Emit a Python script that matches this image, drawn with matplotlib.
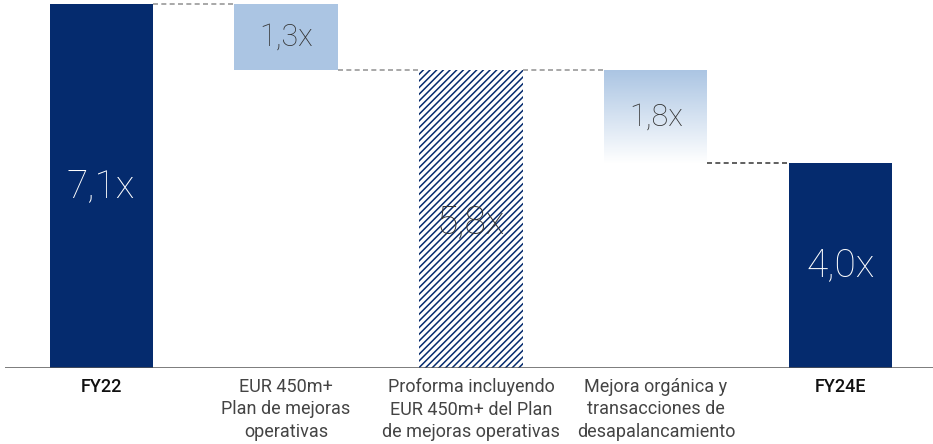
import numpy as np
import matplotlib
matplotlib.use("Agg")
import matplotlib.pyplot as plt
from matplotlib.colors import LinearSegmentedColormap

categories = ["FY22", "EUR 450m+\nPlan de mejoras\noperativas",
              "Proforma incluyendo\nEUR 450m+ del Plan\nde mejoras operativas",
              "Mejora orgánica y\ntransacciones de\ndesapalancamiento", "FY24E"]
bar_bottoms = [0.0, 5.8, 0.0, 4.0, 0.0]
bar_tops = [7.1, 7.1, 5.8, 5.8, 4.0]
value_labels = ["7,1x", "1,3x", "5,8x", "1,8x", "4,0x"]
bold_cats = [True, False, False, False, True]

NAVY = "#052b6e"
LIGHT = "#abc5e3"
plt.rcParams["font.family"] = ["Roboto", "DejaVu Sans"]
plt.rcParams["hatch.linewidth"] = 1.1

fig = plt.figure(figsize=(9.33, 4.44), dpi=100)
ax = fig.add_axes([5/933, 1-368/444, 928/933, 368/444])
x = np.arange(len(categories))
w = 103/185
ax.set_xlim(-(101-5)/185, (933-101)/185)
ax.set_ylim(0, 368/51.3)

heights = [t - b for t, b in zip(bar_tops, bar_bottoms)]
for i in (0, 4):
    ax.bar(x[i], heights[i], bottom=bar_bottoms[i], width=w, color=NAVY, linewidth=0)
ax.bar(x[1], heights[1], bottom=bar_bottoms[1], width=w, color=LIGHT, linewidth=0)
ax.bar(x[2], heights[2], bottom=bar_bottoms[2], width=w, facecolor="white",
       edgecolor=NAVY, hatch="/////", linewidth=0)
cmap = LinearSegmentedColormap.from_list("g", [LIGHT, "#ffffff"])
grad = np.linspace(0, 1, 256).reshape(-1, 1)
ax.imshow(grad, cmap=cmap, aspect="auto", origin="upper",
          extent=(x[3]-w/2, x[3]+w/2, bar_bottoms[3], bar_tops[3]), zorder=1)

conn = [(0, 1, bar_tops[0], "#999999"), (1, 2, bar_bottoms[1], "#999999"),
        (2, 3, bar_tops[2], "#999999"), (3, 4, bar_tops[4], "#444444")]
for a, b, yv, c in conn:
    ax.plot([x[a]+w/2, x[b]-w/2], [yv, yv], ls=(0, (3, 2)), color=c, lw=1.2, zorder=0)

lab_size = [28, 22, 28, 22, 28]
lab_col = ["white", "#333333", "#333333", "#333333", "white"]
for i in range(5):
    yv = bar_bottoms[i] + heights[i] / 2 if i != 2 else bar_tops[i] * 0.49
    ax.text(x[i], yv, value_labels[i], ha="center", va="center", fontsize=lab_size[i],
            color=lab_col[i], fontweight="light", zorder=5)

ax.axhline(0, color="#555555", lw=1.8)
for s in ax.spines.values():
    s.set_visible(False)
ax.set_xticks([])
ax.set_yticks([])

for i in range(5):
    ax.text(x[i], -0.2, categories[i], ha="center", va="top", fontsize=13,
            color="#111111" if bold_cats[i] else "#444444",
            fontweight="medium" if bold_cats[i] else "normal", linespacing=1.3,
            clip_on=False)

fig.savefig("out.png", dpi=100)
